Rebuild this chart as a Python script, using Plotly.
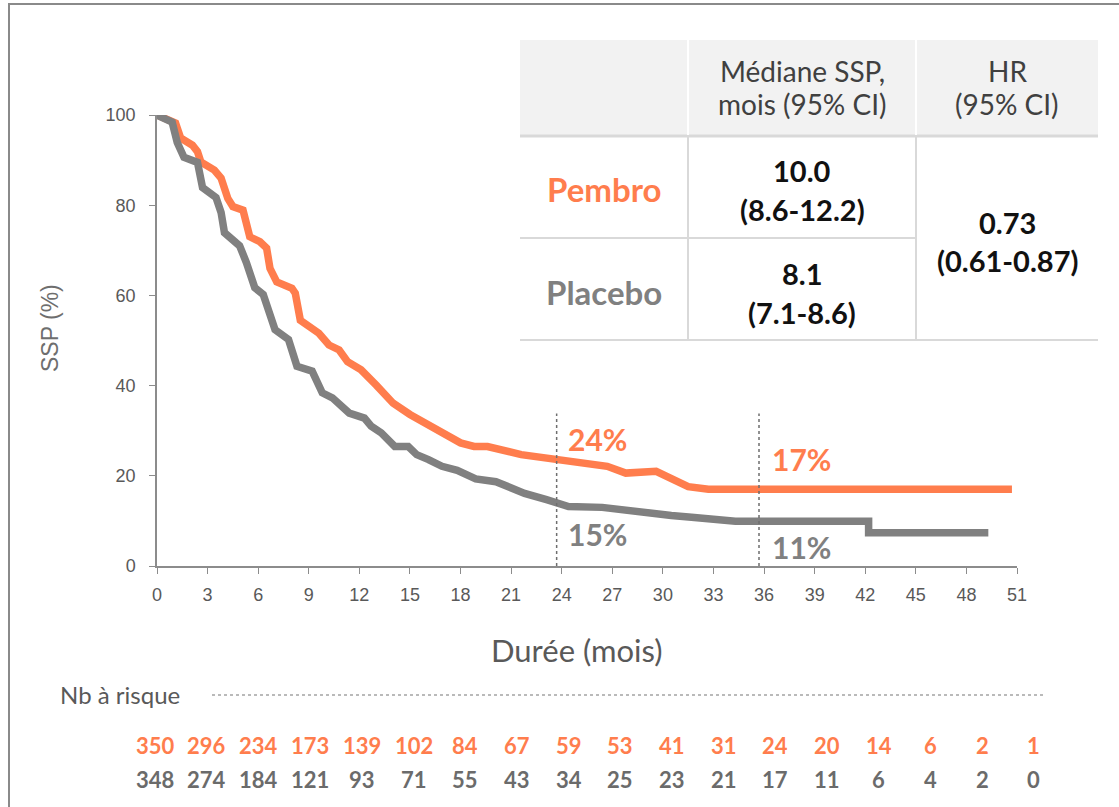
import plotly.graph_objects as go

# ---------------- data ----------------
pembro_t = [0, 1.1, 1.4, 2.1, 2.4, 2.6, 3.4, 3.8, 4.2, 4.5, 5.1, 5.5, 6.1, 6.5, 6.7, 7.1, 8.0, 8.2,
            8.5, 9.6, 10.2, 10.8, 11.3, 12.1, 13.0, 14.0, 15.0, 17.0, 18.0, 18.8, 19.6, 21.6, 23.6,
            25.6, 26.7, 27.8, 29.6, 31.5, 32.7, 50.7]
pembro_s = [100, 98.2, 94.9, 93.3, 91.9, 89.6, 87.8, 86.0, 81.5, 79.7, 78.9, 73.0, 71.9, 70.5, 66.0,
            63.0, 61.6, 60.5, 54.5, 51.6, 49.0, 47.9, 45.3, 43.5, 40.1, 36.1, 33.6, 29.5, 27.3, 26.5,
            26.5, 24.7, 23.6, 22.8, 22.1, 20.6, 21.0, 17.6, 17.0, 17.0]

placebo_t = [0, 0.9, 1.2, 1.6, 2.4, 2.7, 3.5, 3.8, 4.0, 4.9, 5.3, 5.8, 6.3, 7.0, 7.8, 8.3, 9.2, 9.8,
             10.4, 11.4, 12.3, 12.7, 13.3, 13.9, 14.1, 14.9, 15.4, 16.1, 16.9, 17.8, 18.9, 20.1, 21.8,
             23.1, 24.4, 26.4, 27.9, 29.4, 30.5, 31.7, 33.0, 34.3, 42.2, 42.2, 49.3]
placebo_s = [100, 98.4, 93.9, 90.6, 89.5, 83.9, 81.7, 78.4, 73.9, 71.0, 67.3, 61.7, 60.2, 52.4, 50.2,
             44.3, 43.2, 38.4, 37.3, 33.9, 32.8, 31.0, 29.5, 27.3, 26.5, 26.5, 24.7, 23.6, 22.1, 21.2,
             19.3, 18.7, 16.1, 14.7, 13.2, 13.0, 12.3, 11.3, 11.2, 10.8, 10.4, 9.9, 9.9, 7.4, 7.4]

landmark_t = [23.7, 35.7]
landmark_top = 33.8

rate_labels = ["24%", "17%", "15%", "11%"]
rate_t = [26.1, 38.2, 26.1, 38.2]
rate_s = [28.2, 23.8, 7.1, 4.2]
rate_group = ["pembro", "pembro", "placebo", "placebo"]

x_ticks = list(range(0, 52, 3))
y_ticks = [0, 20, 40, 60, 80, 100]

risk_pembro = [350, 296, 234, 173, 139, 102, 84, 67, 59, 53, 41, 31, 24, 20, 14, 6, 2, 1]
risk_placebo = [348, 274, 184, 121, 93, 71, 55, 43, 34, 25, 23, 21, 17, 11, 6, 4, 2, 0]

header_median = ["Médiane SSP,", "mois (95% CI)"]
header_hr = ["HR", "(95% CI)"]
arms = ["Pembro", "Placebo"]
median_pembro = ["10.0", "(8.6-12.2)"]
median_placebo = ["8.1", "(7.1-8.6)"]
hr_lines = ["0.73", "(0.61-0.87)"]

ORANGE = "#FF7D4D"
GRAY = "#808080"
TXT = "#595959"
FONT = "Lato"
AX_FONT = "Liberation Sans"

# --------------- pixel -> paper helpers (layout only) ---------------
L, R, T, B = 157, 1017, 115, 566
W, H = R - L, B - T


def px(x):
    return (x - L) / W


def py(y):
    return (B - y) / H


fig = go.Figure()

fig.add_trace(go.Scatter(x=pembro_t, y=pembro_s, mode="lines", name="Pembro",
                         line=dict(color=ORANGE, width=7.5), cliponaxis=False))
fig.add_trace(go.Scatter(x=placebo_t, y=placebo_s, mode="lines", name="Placebo",
                         line=dict(color=GRAY, width=7.5), cliponaxis=False))

for lt in landmark_t:
    fig.add_trace(go.Scatter(x=[lt, lt], y=[0, landmark_top], mode="lines",
                             line=dict(color="#6e6e6e", width=1.5, dash="dot"),
                             hoverinfo="skip", showlegend=False))

annotations = []


def note(x, y, text, size, color, family=FONT, ref="paper", **kw):
    d = dict(x=x, y=y, xref=ref, yref=ref, text=text, showarrow=False,
             xanchor="center", yanchor="middle",
             font=dict(family=family, size=size, color=color))
    d.update(kw)
    annotations.append(d)


for lab, t, s, g in zip(rate_labels, rate_t, rate_s, rate_group):
    note(t, s, "<b>" + lab + "</b>", 30, ORANGE if g == "pembro" else GRAY, ref="x")
    annotations[-1]["yref"] = "y"

# axis titles
note(px(577), py(650), "Durée (mois)", 31, TXT)
note(px(50), py(328), "SSP (%)", 23, "#6e6e6e", family=AX_FONT, textangle=-90)

# number at risk
note(px(120), py(694), "Nb à risque", 24, TXT)
step = 51.7
for i, (a, b) in enumerate(zip(risk_pembro, risk_placebo)):
    xc = px(155 + i * step)
    note(xc, py(745), "<b>%d</b>" % a, 22, ORANGE)
    note(xc, py(779), "<b>%d</b>" % b, 22, "#6b6b6b")

# table texts
for k, line in enumerate(header_median):
    note(px(802), py(71 + 33 * k), line, 28, "#404040")
for k, line in enumerate(header_hr):
    note(px(1007), py(71 + 33 * k), line, 28, "#404040")
note(px(604), py(189), "<b>" + arms[0] + "</b>", 33, ORANGE)
note(px(604), py(292), "<b>" + arms[1] + "</b>", 33, GRAY)
for k, line in enumerate(median_pembro):
    note(px(802), py(170 + 39 * k), "<b>" + line + "</b>", 29, "#111111")
for k, line in enumerate(median_placebo):
    note(px(802), py(273 + 39 * k), "<b>" + line + "</b>", 29, "#111111")
for k, line in enumerate(hr_lines):
    note(px(1007), py(222 + 38 * k), "<b>" + line + "</b>", 29, "#111111")

shapes = []
# outer frame
shapes.append(dict(type="rect", xref="paper", yref="paper", x0=px(9), x1=px(1135), y0=py(4), y1=py(830),
                   line=dict(color="#8a8a8a", width=2), fillcolor="rgba(0,0,0,0)", layer="below"))
# table header background
shapes.append(dict(type="rect", xref="paper", yref="paper", x0=px(520), x1=px(1098), y0=py(40), y1=py(135),
                   line=dict(width=0), fillcolor="#F2F2F2", layer="below"))
LINE = "#D9D9D9"
shapes.append(dict(type="line", xref="paper", yref="paper", x0=px(520), x1=px(1098), y0=py(136), y1=py(136),
                   line=dict(color=LINE, width=3)))
shapes.append(dict(type="line", xref="paper", yref="paper", x0=px(520), x1=px(916), y0=py(238), y1=py(238),
                   line=dict(color=LINE, width=2)))
shapes.append(dict(type="line", xref="paper", yref="paper", x0=px(520), x1=px(1098), y0=py(340), y1=py(340),
                   line=dict(color=LINE, width=2)))
for vx in [688, 916]:
    shapes.append(dict(type="line", xref="paper", yref="paper", x0=px(vx), x1=px(vx), y0=py(40), y1=py(135),
                       line=dict(color="white", width=2)))
    shapes.append(dict(type="line", xref="paper", yref="paper", x0=px(vx), x1=px(vx), y0=py(137), y1=py(340),
                       line=dict(color=LINE, width=2)))
# dotted line of "Nb à risque"
shapes.append(dict(type="line", xref="paper", yref="paper", x0=px(212), x1=px(1045), y0=py(695), y1=py(695),
                   line=dict(color="#777777", width=1.2, dash="dot")))

fig.update_layout(
    width=1119, height=807,
    margin=dict(l=L, r=1119 - R, t=T, b=807 - B),
    paper_bgcolor="white", plot_bgcolor="white",
    showlegend=False,
    annotations=annotations,
    shapes=shapes,
    xaxis=dict(range=[0, 51], tickvals=x_ticks, showgrid=False, zeroline=False,
               showline=True, linecolor="#8c8c8c", linewidth=1.5,
               ticks="outside", ticklen=6, tickcolor="#8c8c8c", ticklabelstandoff=6,
               tickfont=dict(family=AX_FONT, size=18, color=TXT)),
    yaxis=dict(range=[0, 100], tickvals=y_ticks, showgrid=False, zeroline=False,
               showline=True, linecolor="#8c8c8c", linewidth=1.5,
               ticks="outside", ticklen=6, tickcolor="#8c8c8c", ticklabelstandoff=10,
               tickfont=dict(family=AX_FONT, size=18, color=TXT)),
)

fig.write_html("out.html")
